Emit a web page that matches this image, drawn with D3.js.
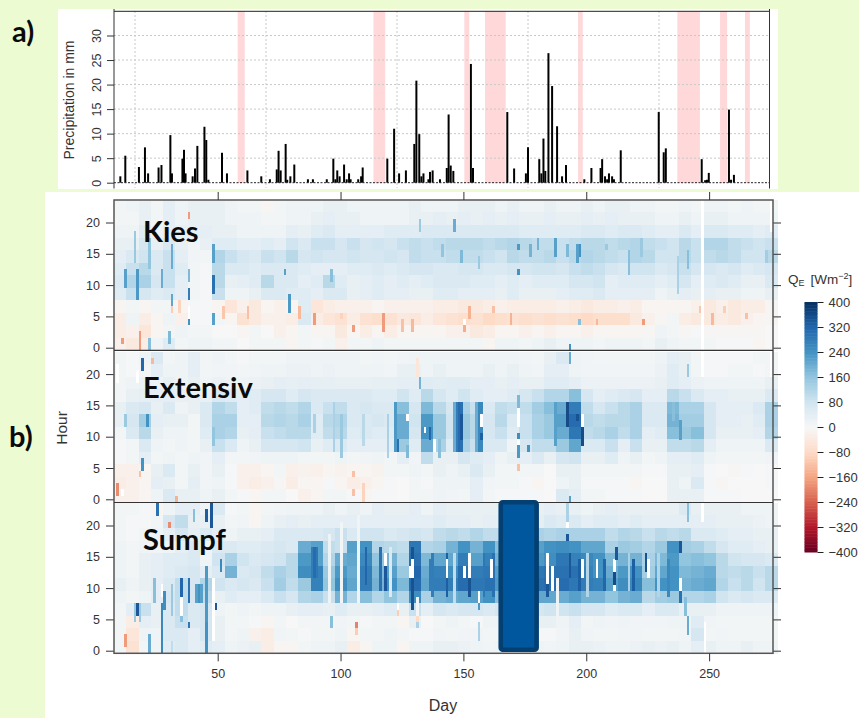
<!DOCTYPE html>
<html lang="en">
<head>
  <meta charset="UTF-8">
  <title>Precipitation and latent heat flux</title>
  <script src="https://cdnjs.cloudflare.com/ajax/libs/d3/7.8.5/d3.min.js"></script>
  <style>
    html, body { margin: 0; padding: 0; background: #fff; }
    svg { display: block; }
    text { font-family: "Liberation Sans", Arial, sans-serif; fill: #333; }
    .note { font-family: Lato, "Open Sans", sans-serif; font-weight: 700; fill: #0a0a0a; }
  </style>
</head>
<body>
  <svg width="859" height="718"></svg>
  <script>
    // precipitation bars, panel a (day is on the panel's own axis)
    const precipDays = [-5.6,-3.7,1.5,3.8,5,9,10.1,13.5,14.1,18.1,18.7,19.3,22,22.9,23.8,26.5,27.2,28,33.2,35.1,42.9,48.2,51.5,54.1,54.8,55.6,57.5,58.1,59.3,60.8,66,67.9,73.2,75.7,76.5,77.2,78.1,79.8,80.8,81.7,82.3,85.2,86.3,86.9,96.3,98.9,100.8,103.4,106.6,107.4,108.5,109.3,110.1,112,112.6,113.6,116.4,119,119.7,120.5,121.5,128.2,129,142.1,144.7,149.2,150,154.3,155.1,155.9,156.6,157.8,159.2,161.1,163,164.5,171.5,174.2,177.7,178.3,179.4,180.2,180.9,182.1,182.8,185.4,199.9,201.8,202.6,216.3,217.6,218.3,219,226.7,227.5,228.6];
    const precipValues = [1.3,5.5,3.2,7.2,1.9,3.1,3.6,9.7,1.9,4.9,6.7,1.9,1.3,2.9,7.5,11.4,8.7,0.6,6.1,1.9,2.5,1.3,0.7,2.7,6.5,2.5,7.9,0.6,1.3,3.7,0.7,0.7,0.7,4.9,0.7,2.5,1.3,3.7,0.7,1.9,0.7,0.7,1.3,3.1,4.9,11,1.9,2.5,7.9,20.8,9.9,1.3,1.9,0.7,2.2,2.5,0.7,3,13.9,3.5,2.4,24.2,3,14.4,2.9,1.9,7.2,4.8,1.9,9,2.4,26.4,19.7,11.5,1.3,3.6,0.7,3,3,4.8,1.3,0.7,1.9,1.3,0.7,6.6,14.4,6.2,7,4.8,0.5,0.6,2,14.9,0.6,1.6];
    const dryStart = [39.2,91,125.7,133.6,169.1,207,223.3,232.8];
    const dryEnd = [41.9,95.5,127.6,141.5,170.9,215.6,226,234.7];
    const precipTicks = [0,5,10,15,20,25,30];
    const precipGrid = [0,50,100,150,200];

    const hourTicks = [0,5,10,15,20];
    const dayTicks = [50,100,150,200,250];
    const legendTicks = [-400,-320,-240,-160,-80,0,80,160,240,320,400];
    const legendColors = ["#67001f","#b2182b","#d6604d","#f4a582","#fddbc7","#f7f7f7","#d1e5f0","#92c5de","#4393c3","#2166ac","#053061"];
    const firstDay = 8;
    const dayStep = 5;   // one column of the rows below is five days
    const hourStep = 2;  // one row is two hours

    // QE in W/m2, rows run from hour 22 down to hour 0
    const kies = [
      [10,20,30,10,40,20,30,30,30, 20,10,10,-10,10,20,20,20,30, 30,20,20,20,20,20,30,20,20, 20,30,30,30,20,30,20,20,30, 20,20,30,20,30,30,20,20,10, 10,20,10,20,20,10,20,10,10],
      [10,10,30,10,40,20,30,30,30, 20,20,20,10,10,20,20,30,40, 30,30,20,20,20,20,30,30,40, 30,40,30,40,30,40,30,30,40, 30,30,40,30,40,30,30,30,20, 20,30,20,30,30,20,20,20,20],
      [20,20,50,20,40,30,30,40,30, 30,20,20,20,20,40,30,50,60, 40,40,40,40,50,50,50,60,60, 60,60,60,60,60,60,50,50,50, 50,50,60,60,50,60,60,50,40, 40,60,40,60,60,50,50,40,50],
      [30,30,70,30,60,30,15,30,50, 50,40,40,50,40,80,60,90,90, 70,90,70,80,70,90,100,90,100, 110,110,110,100,110,120,110,100,100, 90,100,110,110,100,110,120,100,90, 80,110,90,120,120,100,90,80,90],
      [40,60,80,60,90,40,15,10,120, 90,70,60,90,80,110,70,80,70, 70,80,70,70,80,70,100,90,90, 100,100,100,90,80,110,100,100,110, 90,110,120,110,100,90,120,110,80, 80,110,90,100,110,100,80,80,110],
      [50,90,110,60,90,50,10,5,110, 60,60,50,60,60,60,50,40,40, 40,50,50,60,50,60,70,70,60, 60,70,70,60,60,70,70,80,80, 70,90,100,90,70,60,80,80,60, 70,90,70,70,60,70,50,60,70],
      [60,120,130,70,90,40,10,5,110, 30,40,50,110,60,60,40,50,110, 50,30,40,50,40,50,40,50,60, 60,60,50,50,40,50,40,50,50, 50,70,70,80,40,50,50,50,40, 50,70,40,50,60,50,30,30,60],
      [50,90,70,50,60,40,10,5,90, 20,20,30,60,60,50,50,40,60, 60,30,40,50,40,40,30,30,50, 50,40,40,40,30,50,30,30,30, 40,50,50,60,40,40,40,40,20, 30,40,30,40,30,30,20,20,30],
      [-10,10,-10,10,10,-10,5,5,-10, -50,-20,-40,-10,-20,-10,50,-50,-30, -20,-20,-20,-10,-20,-20,-20,-20,-30, -30,-40,-40,-30,-20,-30,-30,-30,-30, -20,-30,-40,-30,-30,-20,-30,-10,-10, -10,-10,-20,-40,-20,-40,-30,-30,-5],
      [-30,20,-30,-10,20,-20,5,5,10, -10,-60,-40,-20,-20,-30,60,-30,-50, -60,-30,-60,-70,-60,-40,-50,-30,-50, -60,-70,-60,-80,-70,-60,-70,-60,-70, -60,-70,-80,-70,-70,-70,-40,-20,-5, 10,-30,-40,-40,-30,-40,-20,-10,-5],
      [-30,-20,-50,-10,10,20,10,10,0, 0,-10,10,0,-20,-10,10,-10,-10, -40,-10,-30,-10,-30,-10,-10,-10,-10, -20,-20,-40,-30,-10,-10,-20,-10,-20, -10,-10,-20,-10,-10,-10,-10,-5,20, 10,-5,5,-5,-5,-5,-5,-5,0],
      [-20,-40,-30,20,50,10,20,20,10, 10,0,10,10,10,-10,10,5,10, -20,10,10,20,10,10,10,10,10, 10,10,10,-10,20,20,10,20,30, 20,20,20,10,20,20,20,10,30, 20,10,10,10,5,5,5,-10,0]
    ];
    const extensiv = [
      [10,5,20,60,10,20,40,10,20, 10,5,10,10,10,20,20,20,20, 20,20,10,15,10,15,20,20,20, 20,20,20,20,20,20,15,10,30, 60,20,15,10,10,10,10,10,20, 40,30,10,5,5,5,5,10,10],
      [10,5,10,40,20,20,40,10,15, 15,10,15,20,20,25,25,20,25, 20,20,20,20,15,30,30,20,30, 20,20,20,30,20,30,20,15,40, 40,20,15,15,15,15,15,15,25, 50,30,10,5,5,10,10,5,10],
      [10,20,25,20,30,20,30,15,25, 20,20,25,30,40,35,40,35,35, 30,30,30,35,35,40,40,50,45, 50,50,40,40,30,40,30,30,50, 50,40,25,25,25,25,25,25,30, 50,40,25,20,20,20,20,20,30],
      [10,30,40,40,40,30,30,30,60, 50,40,50,70,70,50,70,60,60, 60,60,60,50,50,80,50,110,70, 50,80,50,40,40,50,70,90,120, 120,170,70,40,50,60,70,40,40, 110,90,60,40,40,30,30,30,60],
      [30,60,70,30,60,20,30,60,120, 100,40,50,100,110,100,120,60,90, 100,60,70,60,60,170,70,180,110, 70,130,90,60,100,90,100,140,170, 200,280,100,70,90,110,130,60,60, 180,130,130,70,40,40,40,60,130],
      [30,70,140,40,30,30,10,60,130, 130,40,40,110,120,110,130,50,110, 120,60,60,70,60,200,80,230,150, 80,150,110,70,110,60,90,130,150, 220,310,110,100,110,110,130,60,60, 190,140,140,70,40,40,30,50,130],
      [10,60,110,30,20,20,10,50,130, 120,30,40,90,100,110,110,50,100, 110,50,60,50,50,200,70,240,150, 80,150,110,70,90,50,90,130,150, 200,290,100,110,130,100,130,40,50, 170,150,170,70,30,30,30,40,120],
      [5,10,60,20,10,20,10,30,90, 60,20,30,70,70,70,80,30,50, 60,40,40,40,40,150,50,200,130, 50,130,90,60,60,20,70,100,100, 150,210,60,60,90,40,90,30,30, 100,100,110,40,20,20,20,20,60],
      [5,10,40,10,20,10,20,15,40, 10,10,15,20,20,20,10,10,10, 20,10,15,20,10,40,15,100,30, 30,70,50,40,20,30,40,60,30, 70,80,30,30,50,20,30,10,20, 40,40,50,20,10,10,10,10,15],
      [-20,-20,-10,30,60,10,30,15,30, 5,-20,-20,-10,10,-20,-15,-20,-10, -15,-10,-10,-15,10,10,20,10,30, 20,30,60,30,10,10,10,10,0, 30,30,10,10,10,10,10,5,5, 30,30,40,5,0,-5,5,0,5],
      [-30,-20,-10,40,30,10,40,15,20, 5,-20,-30,-20,-5,-30,-10,-10,5, -10,-30,-20,-10,5,0,10,5,20, 20,20,40,15,10,10,5,-10,0, 20,30,5,5,5,5,-10,0,0, 30,20,60,5,-5,0,0,0,5],
      [-20,-20,-10,20,60,30,30,20,30, 10,5,-10,10,10,0,-20,-10,10, 10,5,-10,5,5,0,10,10,20, 15,10,40,10,5,5,5,5,0, 60,40,10,10,5,5,5,0,0, 30,30,30,5,5,5,0,0,0]
    ];
    const sumpf = [
      [10,10,5,-10,20,40,40,20,60, 5,10,-10,10,15,20,20,20,30, 20,30,20,40,30,30,40,20,40, 30,30,30,30,30,30,30,30,40, 30,30,20,30,40,30,30,30,30, 30,60,30,30,30,30,20,20,20],
      [10,5,5,10,70,100,30,30,30, 10,15,-10,20,30,40,30,40,40, 40,40,40,40,40,40,40,40,50, 40,40,30,40,40,40,40,40,60, 50,60,40,50,50,40,50,40,40, 40,40,40,40,30,30,30,25,20],
      [10,5,10,20,40,70,40,60,40, 20,30,30,40,60,60,60,60,70, 90,60,80,80,60,70,80,70,100, 110,100,120,100,100,120,130,130,120, 130,130,130,130,100,120,110,90,110, 100,110,60,60,50,40,40,30,30],
      [20,10,20,15,20,40,60,20,60, 60,50,50,60,70,60,200,220,100, 90,220,240,120,110,100,290,120,130, 190,240,190,240,170,160,230,220,240, 250,240,210,210,130,150,140,120,150, 240,140,130,100,70,50,50,40,30],
      [20,10,30,40,50,50,60,20,80, 130,80,60,70,80,110,230,220,120, 200,210,260,160,190,120,300,180,210, 210,280,220,270,190,180,240,230,250, 290,270,260,240,180,190,190,130,180, 230,160,170,160,110,80,70,70,60],
      [20,10,30,40,50,60,70,40,60, 190,60,70,100,130,110,250,270,150, 230,200,280,180,220,150,320,200,270, 250,310,280,290,220,240,260,290,300, 300,300,270,240,200,230,240,140,210, 240,180,190,200,110,100,110,90,110],
      [30,20,30,40,60,100,70,120,80, 60,70,60,90,140,100,150,270,160, 250,210,280,190,240,180,310,210,280, 280,310,290,300,230,230,290,300,310, 310,290,280,270,220,250,260,170,240, 240,190,200,210,120,90,110,80,110],
      [20,10,20,40,70,100,70,100,30, 50,40,40,60,90,70,120,130,90, 190,120,170,120,160,120,250,130,190, 200,210,220,240,170,170,210,210,210, 200,220,190,190,160,190,200,110,140, 150,120,120,130,80,60,70,60,60],
      [10,40,90,30,60,100,60,70,20, 10,20,10,20,20,30,40,40,30, 50,30,30,40,50,30,90,40,70, 60,70,70,60,70,70,90,70,80, 80,90,70,70,50,60,60,40,60, 60,30,30,30,20,20,20,20,20],
      [10,-30,40,30,60,90,60,70,30, 10,10,5,-10,10,0,10,10,10, 15,10,5,10,10,-10,30,0,10, 20,10,5,20,20,15,10,30,30, 20,40,10,20,15,20,15,15,15, 20,20,50,15,10,10,10,10,10],
      [10,-50,20,20,60,60,40,70,30, 10,20,-20,-30,15,10,5,10,10, 20,-10,10,10,20,10,5,5,15, 10,15,15,10,10,10,10,5,5, 15,30,15,10,10,15,15,10,10, 10,15,70,10,15,10,10,10,10],
      [10,-60,10,20,50,60,40,50,40, 20,25,30,-30,-10,-10,10,20,20, 30,-30,-10,20,20,-10,20,20,30, 30,25,20,15,20,20,30,20,15, 20,30,30,25,20,20,25,30,25, 30,20,40,30,20,20,30,20,20]
    ];

    // single-day readings on top of the five-day rows: [day, hour from, hour to, QE], null = missing
    const kiesDays = [
      [48,14,16,220],[48,9,11,300],[48,4,5,220],[38,8,9,280],[38,11,12,180],[38,5,6,null],[38,4,4,240],[17,8,12,230],[12,10,12,220],[27,10,12,200],[31,7,8,210],
      [16,14,18,150],[22,13,17,160],[31,13,16,200],[31,6,6,-100],[34,6,7,-90],
      [30,1,2,180],[22,0,1,170],[11,1,1,-170],[18,0,2,-170],[79,6,8,230],[77,12,12,220],[96,11,12,170],[132,19,20,150],[89,4,5,-170],[105,3,3,-170],[117,3,5,-170],[100,5,5,-90],
      [52,5,6,-110],[62,5,6,-120],[83,5,6,-130],[125,3,4,-120],[129,3,4,-130],
      [38,21,21,-170],[146,19,20,200],[172,16,16,230],[172,12,12,240],[187,15,17,220],[197,15,16,240],[197,4,4,170],[192,15,16,180],[180,16,17,190],[217,14,15,170],[193,0,0,240],
      [149,14,15,180],[156,13,14,150],[141,15,16,160],[177,15,16,190],[196,14,16,220],[208,16,16,150],[222,15,17,150],[217,12,15,170],[241,13,15,170],[237,9,14,130],[273,14,15,140],
      [150,3,3,-150],[150,4,4,null],[152,5,6,-140],[169,4,5,-140],[223,4,4,-170],[204,4,4,-130],[162,6,6,-120],[246,6,6,-110],[251,4,5,-130],[256,6,6,-100],[265,5,5,-120],
      [247,0,23,null],[275,19,23,null]
    ];
    const extensivDays = [
      [19,21,22,320],[19,5,6,240],[23,22,22,-130],[21,12,13,240],[9,19,21,null],[17,19,20,null],[9,1,2,-190],[11,1,1,null],[12,12,13,150],[18,4,4,-120],[33,0,0,-140],[48,9,11,160],
      [97,8,15,130],[100,7,13,150],[89,11,13,130],[109,9,13,110],[119,7,13,130],[127,13,13,null],[127,7,8,180],[140,7,9,170],[138,8,9,null],
      [146,8,15,200],[147,8,15,280],[148,8,15,310],[149,8,15,300],[155,8,15,200],[156,8,15,260],[157,8,15,260],
      [132,18,19,190],[122,8,15,230],[123,8,9,300],[136,10,11,320],[134,11,11,null],[149,10,13,340],[157,12,13,null],[157,10,10,330],[172,15,16,180],[172,12,14,null],[172,10,10,250],[172,9,9,null],[172,7,8,230],
      [176,8,8,240],[198,12,13,null],[198,9,11,360],[192,12,15,360],[196,13,13,350],[193,22,23,200],[193,0,0,220],[187,9,15,220],[241,20,21,150],[238,10,12,220],[235,13,15,170],
      [247,20,23,null],[275,20,23,null],[172,5,5,-120],[105,4,4,-120],[105,1,1,-120],[109,0,2,-90],[131,20,22,-50]
    ];
    const sumpfDays = [
      [47,20,23,340],[45,21,22,330],[45,11,12,300],[45,3,4,340],[45,0,1,300],[25,22,23,300],[30,20,20,-190],[40,21,22,170],[48,2,11,null],[49,7,7,340],[51,13,14,260],
      [24,8,11,170],[31,6,10,150],[28,7,9,250],[35,5,7,170],[38,8,11,300],[41,8,10,220],[42,8,10,240],[43,8,10,220],[45,5,13,230],[45,0,4,240],[16,5,7,150],[18,5,7,150],[22,0,2,200],[31,0,1,100],
      [27,0,7,260],[27,9,10,null],[17,6,7,340],[35,9,11,320],[35,6,8,null],[38,8,9,300],[38,4,4,290],[12,1,2,-170],[106,4,4,-200],[106,3,3,-100],[96,4,5,170],[123,6,6,-100],[123,7,7,null],
      [95,8,18,20],[100,8,20,10],[107,8,21,15],[120,9,16,60],[146,8,15,100],[116,10,16,300],[137,9,15,280],[143,9,15,330],[152,9,15,350],[158,9,15,290],[162,9,15,300],[88,12,16,280],[90,12,16,290],
      [89,12,16,310],[110,11,16,320],[118,10,15,340],[118,14,15,null],[129,7,16,350],[129,12,14,null],[128,12,13,null],[136,10,14,280],
      [152,12,15,null],[150,12,13,null],[161,12,14,null],[156,8,9,null],[156,7,7,230],[156,2,4,130],[143,12,14,null],[143,10,11,330],[184,11,15,null],[184,9,10,340],[186,10,13,null],
      [198,12,14,null],[204,12,14,null],[211,13,14,null],[211,10,10,null],[211,11,12,360],[225,12,14,null],[238,16,17,340],[238,10,11,null],[238,8,9,300],
      [192,18,18,340],[192,20,20,null],[192,21,23,130],[241,21,23,170],[241,3,5,200],[240,6,8,170],[247,21,23,null],[248,0,4,null],[188,6,11,20],[131,6,8,10],[131,5,5,-80],[131,4,4,130],
      [193,12,15,340],[197,10,14,330],[207,10,14,320],[212,15,16,340],[224,13,15,350],[200,9,15,120],[217,10,15,130],[219,10,14,330],[229,9,15,120],[233,9,14,260]
    ];

    const panelNames = ["Kies", "Extensiv", "Sumpf"];
    const panelRows = [kies, extensiv, sumpf];
    const panelDays = [kiesDays, extensivDays, sumpfDays];
    const panelZero = [347.7, 499.3, 650.7];  // pixel row of hour 0 in each panel

    const svg = d3.select("svg");
    svg.append("defs").append("filter").attr("id", "soft")
      .attr("x", 0).attr("y", 0).attr("width", 1).attr("height", 1)
      .append("feGaussianBlur").attr("stdDeviation", 0.55);

    // backgrounds
    svg.append("rect").attr("width", 859).attr("height", 718).attr("fill", "#edfbd2");
    svg.append("rect").attr("x", 45).attr("y", 192).attr("width", 814).attr("height", 526).attr("fill", "#fff");
    svg.append("rect").attr("x", 58).attr("y", 9).attr("width", 720).attr("height", 180).attr("fill", "#fff");

    // panel a
    const px = d3.scaleLinear().domain([0, 200]).range([135, 659]);
    const py = d3.scaleLinear().domain([0, 30]).range([182.7, 35.5]);
    const panelA = svg.append("g");

    panelA.selectAll("rect.dry").data(dryStart).enter().append("rect")
      .attr("x", d => px(d))
      .attr("y", 11)
      .attr("width", (d, i) => px(dryEnd[i]) - px(d))
      .attr("height", 172)
      .attr("fill", "#ffd9da");

    panelA.selectAll("line.gridx").data(precipGrid).enter().append("line")
      .attr("x1", d => px(d)).attr("x2", d => px(d))
      .attr("y1", 11).attr("y2", 188)
      .attr("stroke", "#c8c8c8").attr("stroke-dasharray", "2,2");
    panelA.selectAll("line.gridy").data(precipTicks.slice(1)).enter().append("line")
      .attr("x1", 114).attr("x2", 770)
      .attr("y1", d => py(d)).attr("y2", d => py(d))
      .attr("stroke", "#c8c8c8").attr("stroke-dasharray", "2,2");

    panelA.selectAll("line.bar").data(precipDays).enter().append("line")
      .attr("x1", d => px(d)).attr("x2", d => px(d))
      .attr("y1", py(0))
      .attr("y2", (d, i) => py(precipValues[i]))
      .attr("stroke", "#000").attr("stroke-width", 2);

    panelA.append("line").attr("x1", 114).attr("x2", 770).attr("y1", py(0)).attr("y2", py(0))
      .attr("stroke", "#222").attr("stroke-dasharray", "2,1.5");
    panelA.append("line").attr("x1", 114).attr("x2", 770).attr("y1", 11.3).attr("y2", 11.3).attr("stroke", "#222");
    panelA.append("line").attr("x1", 114).attr("x2", 114).attr("y1", 9).attr("y2", 188.5).attr("stroke", "#333");
    panelA.append("line").attr("x1", 769.5).attr("x2", 769.5).attr("y1", 9).attr("y2", 188.5).attr("stroke", "#333");

    const precipAxis = panelA.append("g").attr("transform", "translate(114,0)")
      .call(d3.axisLeft(py).tickValues(precipTicks).tickSize(7).tickPadding(6));
    precipAxis.select(".domain").remove();
    precipAxis.selectAll("line").attr("stroke", "#333");
    precipAxis.selectAll("text")
      .attr("font-size", 12.5).attr("fill", "#444")
      .attr("text-anchor", "middle").attr("dy", 0).attr("x", 0)
      .attr("transform", "translate(-13,0) rotate(-90)");

    panelA.append("text").attr("transform", "translate(74,100) rotate(-90)")
      .attr("text-anchor", "middle").attr("font-size", 14).attr("fill", "#444").text("Precipitation in mm");

    // panels b
    const x = d3.scaleLinear().domain([7.8, 276]).range([114, 773]);
    const color = d3.scaleLinear().domain(legendTicks).range(legendColors);
    const cellColor = v => v === null ? "#fff" : color(v);
    const heat = svg.append("g").attr("shape-rendering", "crispEdges").attr("filter", "url(#soft)");

    panelRows.forEach((rows, p) => {
      const y = d3.scaleLinear().domain([0, 5]).range([panelZero[p], panelZero[p] - 31.3]);
      const g = heat.append("g");
      const cells = [];
      rows.forEach((row, r) => {
        const hour = 22 - r * hourStep;
        row.forEach((v, c) => cells.push({ day: firstDay + c * dayStep, days: dayStep, hour, hours: hourStep, v }));
      });
      panelDays[p].forEach(d => cells.push({ day: d[0], days: 1, hour: d[1], hours: d[2] - d[1] + 1, v: d[3] }));

      g.selectAll("rect").data(cells).enter().append("rect")
        .attr("x", d => x(d.day - 0.2))
        .attr("width", d => x(d.day + d.days - 0.2) - x(d.day - 0.2) + 0.3)
        .attr("y", d => y(d.hour + d.hours - 0.4))
        .attr("height", d => y(d.hour - 0.4) - y(d.hour + d.hours - 0.4) + 0.3)
        .attr("fill", d => cellColor(d.v));

      const left = svg.append("g").attr("transform", "translate(114,0)")
        .call(d3.axisLeft(y).tickValues(hourTicks).tickFormat(d3.format("d")).tickSize(8).tickPadding(6));
      const right = svg.append("g").attr("transform", "translate(773,0)")
        .call(d3.axisRight(y).tickValues(hourTicks).tickSize(8).tickFormat(""));
      [left, right].forEach(a => {
        a.select(".domain").remove();
        a.selectAll("line").attr("stroke", "#333");
        a.selectAll("text").attr("font-size", 12.5).attr("fill", "#333");
      });

      svg.append("text").attr("class", "note")
        .attr("x", 143).attr("y", panelZero[p] - [106, 101, 101][p])
        .attr("font-size", 29).text(panelNames[p]);
    });

    // frame and separators
    svg.append("rect").attr("x", 114).attr("y", 200).attr("width", 659).attr("height", 453.3)
      .attr("fill", "none").attr("stroke", "#555").attr("stroke-width", 1.5);
    svg.selectAll("line.sep").data([350.3, 502.5]).enter().append("line")
      .attr("x1", 114).attr("x2", 773).attr("y1", d => d).attr("y2", d => d)
      .attr("stroke", "#333").attr("stroke-width", 1.2);

    const bottomAxis = svg.append("g").attr("transform", "translate(0,653.3)")
      .call(d3.axisBottom(x).tickValues(dayTicks).tickSize(8).tickPadding(8));
    const topAxis = svg.append("g").attr("transform", "translate(0,200)")
      .call(d3.axisTop(x).tickValues(dayTicks).tickSize(8).tickFormat(""));
    [bottomAxis, topAxis].forEach(a => {
      a.select(".domain").remove();
      a.selectAll("line").attr("stroke", "#333");
      a.selectAll("text").attr("font-size", 12.5).attr("fill", "#333");
    });

    svg.append("text").attr("x", 443).attr("y", 711).attr("text-anchor", "middle").attr("font-size", 16).text("Day");
    svg.append("text").attr("transform", "translate(67,428) rotate(-90)")
      .attr("text-anchor", "middle").attr("font-size", 15.5).text("Hour");

    // data gap marker in the Sumpf panel
    svg.append("rect")
      .attr("x", x(165.2)).attr("width", x(179.8) - x(165.2))
      .attr("y", 502.3).attr("height", 147.5).attr("rx", 2)
      .attr("fill", "#01579e").attr("stroke", "#043f72").attr("stroke-width", 4.6);

    // colour key
    const legendY = d3.scaleLinear().domain([-400, 400]).range([552, 302]);
    svg.selectAll("rect.key").data(d3.range(-400, 400, 5)).enter().append("rect")
      .attr("x", 804.5).attr("width", 13)
      .attr("y", d => legendY(d + 5)).attr("height", d => legendY(d) - legendY(d + 5) + 0.5)
      .attr("fill", d => color(d + 2.5));
    const legendAxis = svg.append("g").attr("transform", "translate(817.5,0)")
      .call(d3.axisRight(legendY).tickValues(legendTicks).tickSize(6).tickPadding(5));
    legendAxis.select(".domain").remove();
    legendAxis.selectAll("line").attr("stroke", "#222");
    legendAxis.selectAll("text").attr("font-size", 13).attr("fill", "#333");

    const keyTitle = svg.append("text").attr("x", 788).attr("y", 284).attr("font-size", 13.5).attr("fill", "#333");
    keyTitle.append("tspan").text("Q");
    keyTitle.append("tspan").attr("font-size", 9).attr("dy", 2).text("E");
    keyTitle.append("tspan").attr("dx", 6).attr("dy", -2).text("[Wm");
    keyTitle.append("tspan").attr("font-size", 9).attr("dy", -5).text("−2");
    keyTitle.append("tspan").attr("dy", 5).text("]");

    // panel letters
    svg.append("text").attr("class", "note").attr("x", 12).attr("y", 42).attr("font-size", 29).text("a)");
    svg.append("text").attr("class", "note").attr("x", 9).attr("y", 447).attr("font-size", 29).text("b)");
  </script>
</body>
</html>
